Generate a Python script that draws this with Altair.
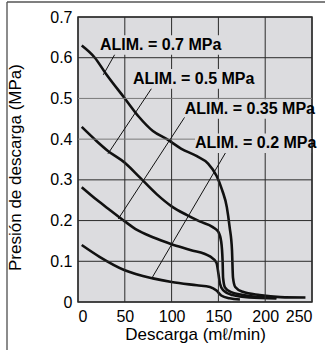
import altair as alt
import pandas as pd

# ---- data ----
q_07 = [4, 18, 30, 50, 65, 80, 95, 110, 127, 139, 148, 154, 159, 162, 164.5, 165.6, 168, 176, 194, 216, 243]
p_07 = [0.630, 0.600, 0.560, 0.500, 0.455, 0.420, 0.400, 0.377, 0.358, 0.340, 0.310, 0.275, 0.233, 0.184, 0.128, 0.060, 0.037, 0.025, 0.017, 0.012, 0.011]

q_05 = [4, 20, 32, 50, 66, 84, 100, 116, 130, 144, 150, 153, 154.5, 155, 157, 163, 175, 190, 212]
p_05 = [0.430, 0.395, 0.371, 0.342, 0.306, 0.265, 0.235, 0.214, 0.198, 0.184, 0.172, 0.148, 0.100, 0.060, 0.036, 0.025, 0.018, 0.013, 0.011]

q_035 = [4, 20, 34, 50, 63, 80, 100, 120, 141, 148, 150, 151.7, 155, 165, 183, 212]
p_035 = [0.282, 0.251, 0.226, 0.198, 0.177, 0.159, 0.142, 0.128, 0.112, 0.096, 0.070, 0.045, 0.029, 0.017, 0.011, 0.009]

q_02 = [4, 23, 50, 80, 100, 127, 141, 148, 153, 162, 173]
p_02 = [0.140, 0.111, 0.078, 0.058, 0.049, 0.041, 0.037, 0.028, 0.016, 0.009, 0.006]

series = ["0.7", "0.5", "0.35", "0.2"]

label_text = ["ALIM. = 0.7 MPa", "ALIM. = 0.5 MPa", "ALIM. = 0.35 MPa", "ALIM. = 0.2 MPa"]
label_q = [23.5, 58.8, 114, 125]          # left edge of label (data units)
label_p = [0.631, 0.548, 0.474, 0.390]    # vertical centre of label
box_q2 = [159, 194, 245, 249]
box_p_lo = [0.607, 0.524, 0.450, 0.366]
box_p_hi = [0.655, 0.572, 0.498, 0.414]

lead_q1 = [41, 79, 114, 158]
lead_p1 = [0.615, 0.526, 0.454, 0.368]
lead_q2 = [27, 32, 43, 79]
lead_p2 = [0.558, 0.364, 0.204, 0.059]

x_domain = [0, 250]
y_domain = [0, 0.7]
x_ticks = [0, 50, 100, 150, 200, 250]
y_ticks = [0, 0.1, 0.2, 0.3, 0.4, 0.5, 0.6, 0.7]
y_light = [0.4, 0.5]   # gridlines that look lighter grey in the reference

# ---- tables ----
rows = []
for name, qs, ps in zip(series, [q_07, q_05, q_035, q_02], [p_07, p_05, p_035, p_02]):
    for i, (q, p) in enumerate(zip(qs, ps)):
        rows.append({"s": name, "i": i, "q": q, "p": p})
curves = pd.DataFrame(rows)

boxes_df = pd.DataFrame({"q": label_q, "bq2": box_q2, "blo": box_p_lo, "bhi": box_p_hi})
text_df = pd.DataFrame({"t": label_text, "q": label_q, "p": label_p})

# grid lines and leader lines as one table of segments
segs = []
for v in x_ticks:
    segs.append({"k": "grid", "a1": v, "b1": y_domain[0], "a2": v, "b2": y_domain[1]})
for v in y_ticks:
    segs.append({"k": "light" if v in y_light else "grid",
                 "a1": x_domain[0], "b1": v, "a2": x_domain[1], "b2": v})
for a1, b1, a2, b2 in zip(lead_q1, lead_p1, lead_q2, lead_p2):
    segs.append({"k": "lead", "a1": a1, "b1": b1, "a2": a2, "b2": b2})
segs = pd.DataFrame(segs)

FONT = "Liberation Sans"
xs = alt.Scale(domain=x_domain, nice=False, zero=True)
ys = alt.Scale(domain=y_domain, nice=False, zero=True)

x_axis = alt.Axis(values=x_ticks, title="Descarga (mℓ/min)", grid=False,
                  domain=False, ticks=False,
                  labelFontSize=16, labelColor="black", labelFont=FONT, labelPadding=6,
                  titleFont=FONT, titleFontSize=17, titleFontWeight="normal",
                  titleColor="black", titleY=24, titleBaseline="top")
y_axis = alt.Axis(values=y_ticks, title="Presión de descarga (MPa)", grid=False,
                  domain=False, ticks=False,
                  labelExpr="datum.value == 0 ? '0' : format(datum.value, '.1f')",
                  labelFontSize=16, labelColor="black", labelFont=FONT, labelPadding=6,
                  titleFont=FONT, titleFontSize=17, titleFontWeight="normal",
                  titleColor="black", titleX=-54, titleY=150)

lines = alt.Chart(curves).mark_line(color="#111111", strokeWidth=2.6, interpolate="monotone").encode(
    x=alt.X("q:Q", scale=xs, axis=x_axis),
    y=alt.Y("p:Q", scale=ys, axis=y_axis),
    detail="s:N",
    order="i:Q",
)

rules = alt.Chart(segs).mark_rule(strokeWidth=1).encode(
    x=alt.X("a1:Q", scale=xs),
    y=alt.Y("b1:Q", scale=ys),
    x2="a2:Q",
    y2="b2:Q",
    color=alt.Color("k:N", scale=alt.Scale(domain=["grid", "light", "lead"],
                                           range=["#2a2a2a", "#7a7a7a", "#111111"]),
                    legend=None),
)

boxes = alt.Chart(boxes_df).mark_rect(color="#dcdcdf").encode(
    x=alt.X("q:Q", scale=xs),
    x2="bq2:Q",
    y=alt.Y("blo:Q", scale=ys),
    y2="bhi:Q",
)

texts = alt.Chart(text_df).mark_text(align="left", baseline="middle", font=FONT,
                                     fontSize=16, fontWeight="bold", color="black").encode(
    x=alt.X("q:Q", scale=xs),
    y=alt.Y("p:Q", scale=ys),
    text="t:N",
)

frame_left = alt.Chart(pd.DataFrame({"k": [0]})).mark_rule(color="#666666", strokeWidth=1.5).encode(
    x=alt.value(-71), y=alt.value(-15), y2=alt.value(340))
frame_top = alt.Chart(pd.DataFrame({"k": [1]})).mark_rule(color="#555555", strokeWidth=1.5).encode(
    x=alt.value(-71), x2=alt.value(260), y=alt.value(-15))

chart = alt.layer(lines, rules, boxes, texts, frame_left, frame_top).properties(
    width=234, height=285,
    autosize=alt.AutoSizeParams(type="none"),
    padding={"left": 78, "top": 17, "right": 13, "bottom": 48},
    background="white",
).configure_view(fill="#dcdcdf", stroke="#333333", strokeWidth=1.5)

chart.save("out.html", embed_options={"renderer": "svg", "actions": False})
